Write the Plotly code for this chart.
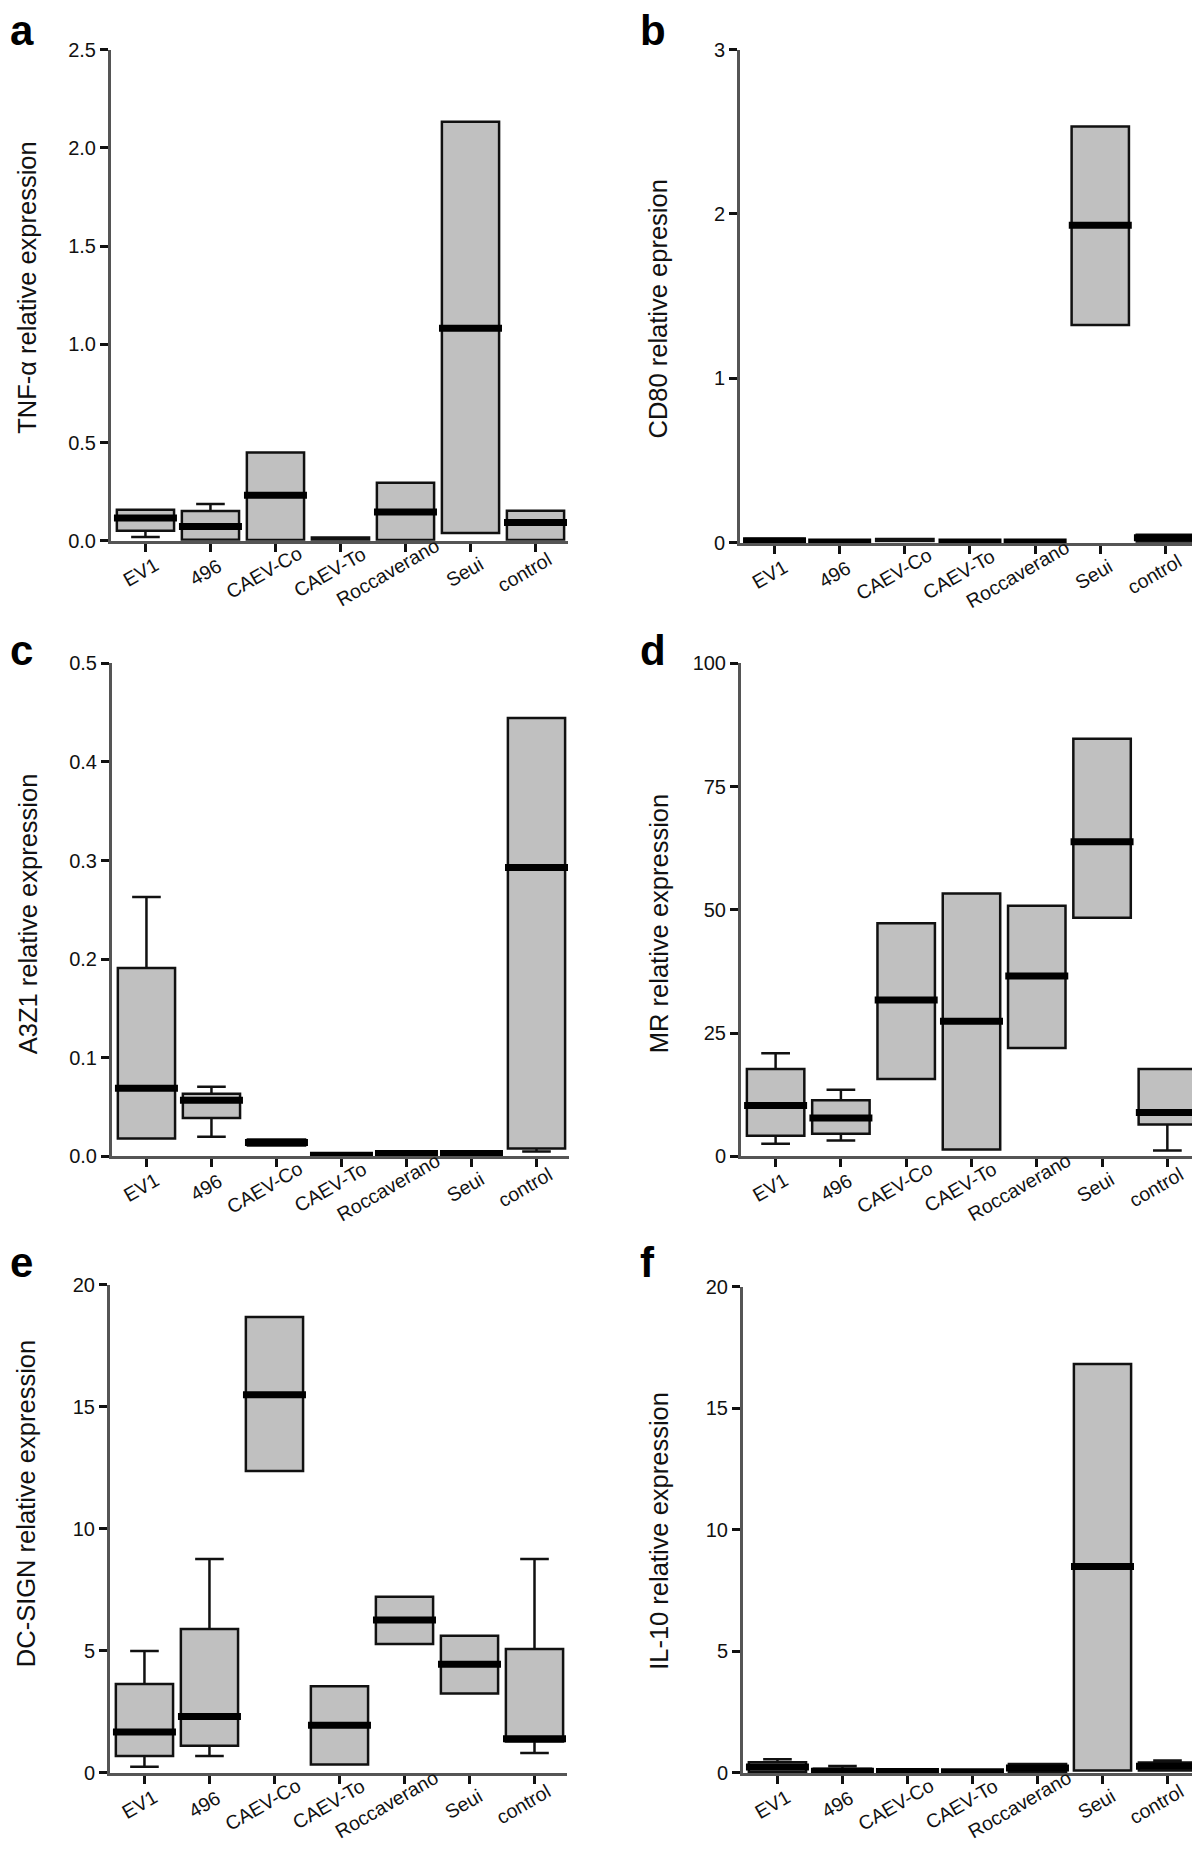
import plotly.graph_objects as go

W, H = 1200, 1856
FONT = "Liberation Sans, Arial, Helvetica, sans-serif"

groups = ["EV1", "496", "CAEV-Co", "CAEV-To", "Roccaverano", "Seui", "control"]

# a - TNF-alpha
tnf_q1 = [0.051, 0.005, 0.004, 0.004, 0.004, 0.039, 0.004]
tnf_med = [0.116, 0.072, 0.231, 0.010, 0.146, 1.082, 0.093]
tnf_q3 = [0.158, 0.151, 0.449, 0.016, 0.295, 2.133, 0.153]
tnf_lo = [0.019, 0.005, 0.004, 0.004, 0.004, 0.039, 0.004]
tnf_hi = [0.158, 0.187, 0.449, 0.016, 0.295, 2.133, 0.153]

# b - CD80
cd80_q1 = [0.003, 0.002, 0.010, 0.0, 0.0, 1.325, 0.005]
cd80_med = [0.012, 0.005, 0.015, 0.005, 0.005, 1.931, 0.030]
cd80_q3 = [0.022, 0.010, 0.022, 0.012, 0.012, 2.533, 0.048]
cd80_lo = cd80_q1
cd80_hi = cd80_q3

# c - A3Z1
a3z1_q1 = [0.018, 0.039, 0.011, 0.0, 0.001, 0.001, 0.008]
a3z1_med = [0.069, 0.057, 0.014, 0.001, 0.003, 0.003, 0.293]
a3z1_q3 = [0.191, 0.0635, 0.017, 0.003, 0.005, 0.005, 0.4446]
a3z1_lo = [0.018, 0.020, 0.011, 0.0, 0.001, 0.001, 0.005]
a3z1_hi = [0.263, 0.0707, 0.017, 0.003, 0.005, 0.005, 0.4446]

# d - MR
mr_q1 = [4.18, 4.6, 15.7, 1.37, 22.0, 48.4, 6.46]
mr_med = [10.3, 7.8, 31.7, 27.4, 36.6, 63.8, 8.9]
mr_q3 = [17.7, 11.4, 47.3, 53.3, 50.8, 84.7, 17.7]
mr_lo = [2.57, 3.2, 15.7, 1.37, 22.0, 48.4, 1.18]
mr_hi = [20.9, 13.5, 47.3, 53.3, 50.8, 84.7, 17.7]

# e - DC-SIGN
dc_q1 = [0.69, 1.12, 12.37, 0.35, 5.28, 3.26, 1.29]
dc_med = [1.68, 2.31, 15.5, 1.95, 6.27, 4.45, 1.40]
dc_q3 = [3.65, 5.90, 18.68, 3.55, 7.22, 5.62, 5.08]
dc_lo = [0.25, 0.70, 12.37, 0.35, 5.28, 3.26, 0.82]
dc_hi = [5.0, 8.77, 18.68, 3.55, 7.22, 5.62, 8.77]

# f - IL-10
il10_q1 = [0.05, 0.01, 0.02, 0.01, 0.05, 0.10, 0.10]
il10_med = [0.25, 0.07, 0.06, 0.05, 0.20, 8.49, 0.28]
il10_q3 = [0.44, 0.17, 0.10, 0.09, 0.37, 16.82, 0.43]
il10_lo = il10_q1
il10_hi = [0.56, 0.29, 0.10, 0.09, 0.37, 16.82, 0.51]

panels = [
    dict(letter="a", title="TNF-\u03b1 relative expression",
         stats=(tnf_q1, tnf_med, tnf_q3, tnf_lo, tnf_hi),
         ticks=[0, 0.5, 1.0, 1.5, 2.0, 2.5], fmt="{:.1f}", thin=["CAEV-To"],
         box=(103, 560, 31, 528), title_xy=(19, 272), letter_xy=(0, -14)),
    dict(letter="b", title="CD80 relative epresion",
         stats=(cd80_q1, cd80_med, cd80_q3, cd80_lo, cd80_hi),
         ticks=[0, 1, 2, 3], fmt="{:d}", thin=["CAEV-Co"],
         box=(732, 1190, 31, 530), title_xy=(650, 294), letter_xy=(630, -14)),
    dict(letter="c", title="A3Z1 relative expression",
         stats=(a3z1_q1, a3z1_med, a3z1_q3, a3z1_lo, a3z1_hi),
         ticks=[0, 0.1, 0.2, 0.3, 0.4, 0.5], fmt="{:.1f}", thin=[],
         box=(104, 561, 652, 1151), title_xy=(20, 906), letter_xy=(0, 613)),
    dict(letter="d", title="MR relative expression",
         stats=(mr_q1, mr_med, mr_q3, mr_lo, mr_hi),
         ticks=[0, 25, 50, 75, 100], fmt="{:d}", thin=[],
         box=(733, 1192, 652, 1151), title_xy=(651, 916), letter_xy=(630, 613)),
    dict(letter="e", title="DC-SIGN relative expression",
         stats=(dc_q1, dc_med, dc_q3, dc_lo, dc_hi),
         ticks=[0, 5, 10, 15, 20], fmt="{:d}", thin=[],
         box=(102, 559, 1281, 1775), title_xy=(18, 1503), letter_xy=(0, 1233)),
    dict(letter="f", title="IL-10 relative expression",
         stats=(il10_q1, il10_med, il10_q3, il10_lo, il10_hi),
         ticks=[0, 5, 10, 15, 20], fmt="{:d}", thin=[],
         box=(735, 1192, 1283, 1775), title_xy=(651, 1530), letter_xy=(630, 1233)),
]

fig = go.Figure()
annotations = []
layout = {}

for i, p in enumerate(panels):
    n = "" if i == 0 else str(i + 1)
    xa, ya = "x" + n, "y" + n
    q1, med, q3, lo, hi = p["stats"]
    x0, x1, ytop, yzero = p["box"]

    fig.add_trace(go.Box(
        x=groups, q1=q1, median=med, q3=q3, lowerfence=lo, upperfence=hi,
        width=0.88, whiskerwidth=0.5, boxpoints=False,
        fillcolor="#c0c0c0", line=dict(color="#111111", width=2.5),
        xaxis=xa, yaxis=ya, showlegend=False, hoverinfo="skip",
    ))
    # thick median bars
    fig.add_trace(go.Scatter(
        x=groups, y=[None if g in p["thin"] else m for g, m in zip(groups, med)],
        mode="markers", cliponaxis=False,
        marker=dict(symbol="line-ew", size=45, line=dict(color="#000000", width=7)),
        xaxis=xa, yaxis=ya, showlegend=False, hoverinfo="skip",
    ))

    ymax = p["ticks"][-1]
    layout["xaxis" + n] = dict(
        domain=[x0 / W, x1 / W], anchor=ya, type="category",
        categoryorder="array", categoryarray=groups, range=[-0.53, 6.5],
        showline=True, linecolor="#555555", linewidth=3,
        ticks="outside", ticklen=8, tickwidth=3, tickcolor="#111111",
        showticklabels=False, showgrid=False, zeroline=False,
    )
    layout["yaxis" + n] = dict(
        domain=[1 - yzero / H, 1 - ytop / H], anchor=xa, range=[0, ymax],
        tickvals=p["ticks"], ticktext=[p["fmt"].format(t) for t in p["ticks"]],
        showline=True, linecolor="#555555", linewidth=3,
        ticks="outside", ticklen=8, tickwidth=3, tickcolor="#111111",
        tickfont=dict(family=FONT, size=20, color="#111111"),
        showgrid=False, zeroline=False,
    )

    # category labels under each tick, long names nudged left
    for j, g in enumerate(groups):
        annotations.append(dict(
            text=g, x=j, y=0, xref=xa, yref=ya + " domain",
            xanchor="center", yanchor="middle",
            xshift=-1.6 * len(g), yshift=-31,
            textangle=-30, showarrow=False,
            font=dict(family=FONT, size=19.5, color="#111111"),
        ))

    tx, ty = p["title_xy"]
    annotations.append(dict(
        text=p["title"], x=tx / W, y=1 - ty / H, xref="paper", yref="paper",
        xanchor="center", yanchor="middle", textangle=-90, showarrow=False,
        font=dict(family=FONT, size=25.5, color="#111111"),
    ))

    lx, ly = p["letter_xy"]
    annotations.append(dict(
        text="<b>" + p["letter"] + "</b>", x=lx / W, y=1 - ly / H,
        xref="paper", yref="paper", xanchor="left", yanchor="top",
        showarrow=False, font=dict(family=FONT, size=42, color="#000000"),
    ))

fig.update_layout(
    width=W, height=H, margin=dict(l=0, r=0, t=0, b=0),
    paper_bgcolor="white", plot_bgcolor="white",
    font=dict(family=FONT, color="#111111"),
    annotations=annotations, **layout,
)

fig.write_html("out.html")
